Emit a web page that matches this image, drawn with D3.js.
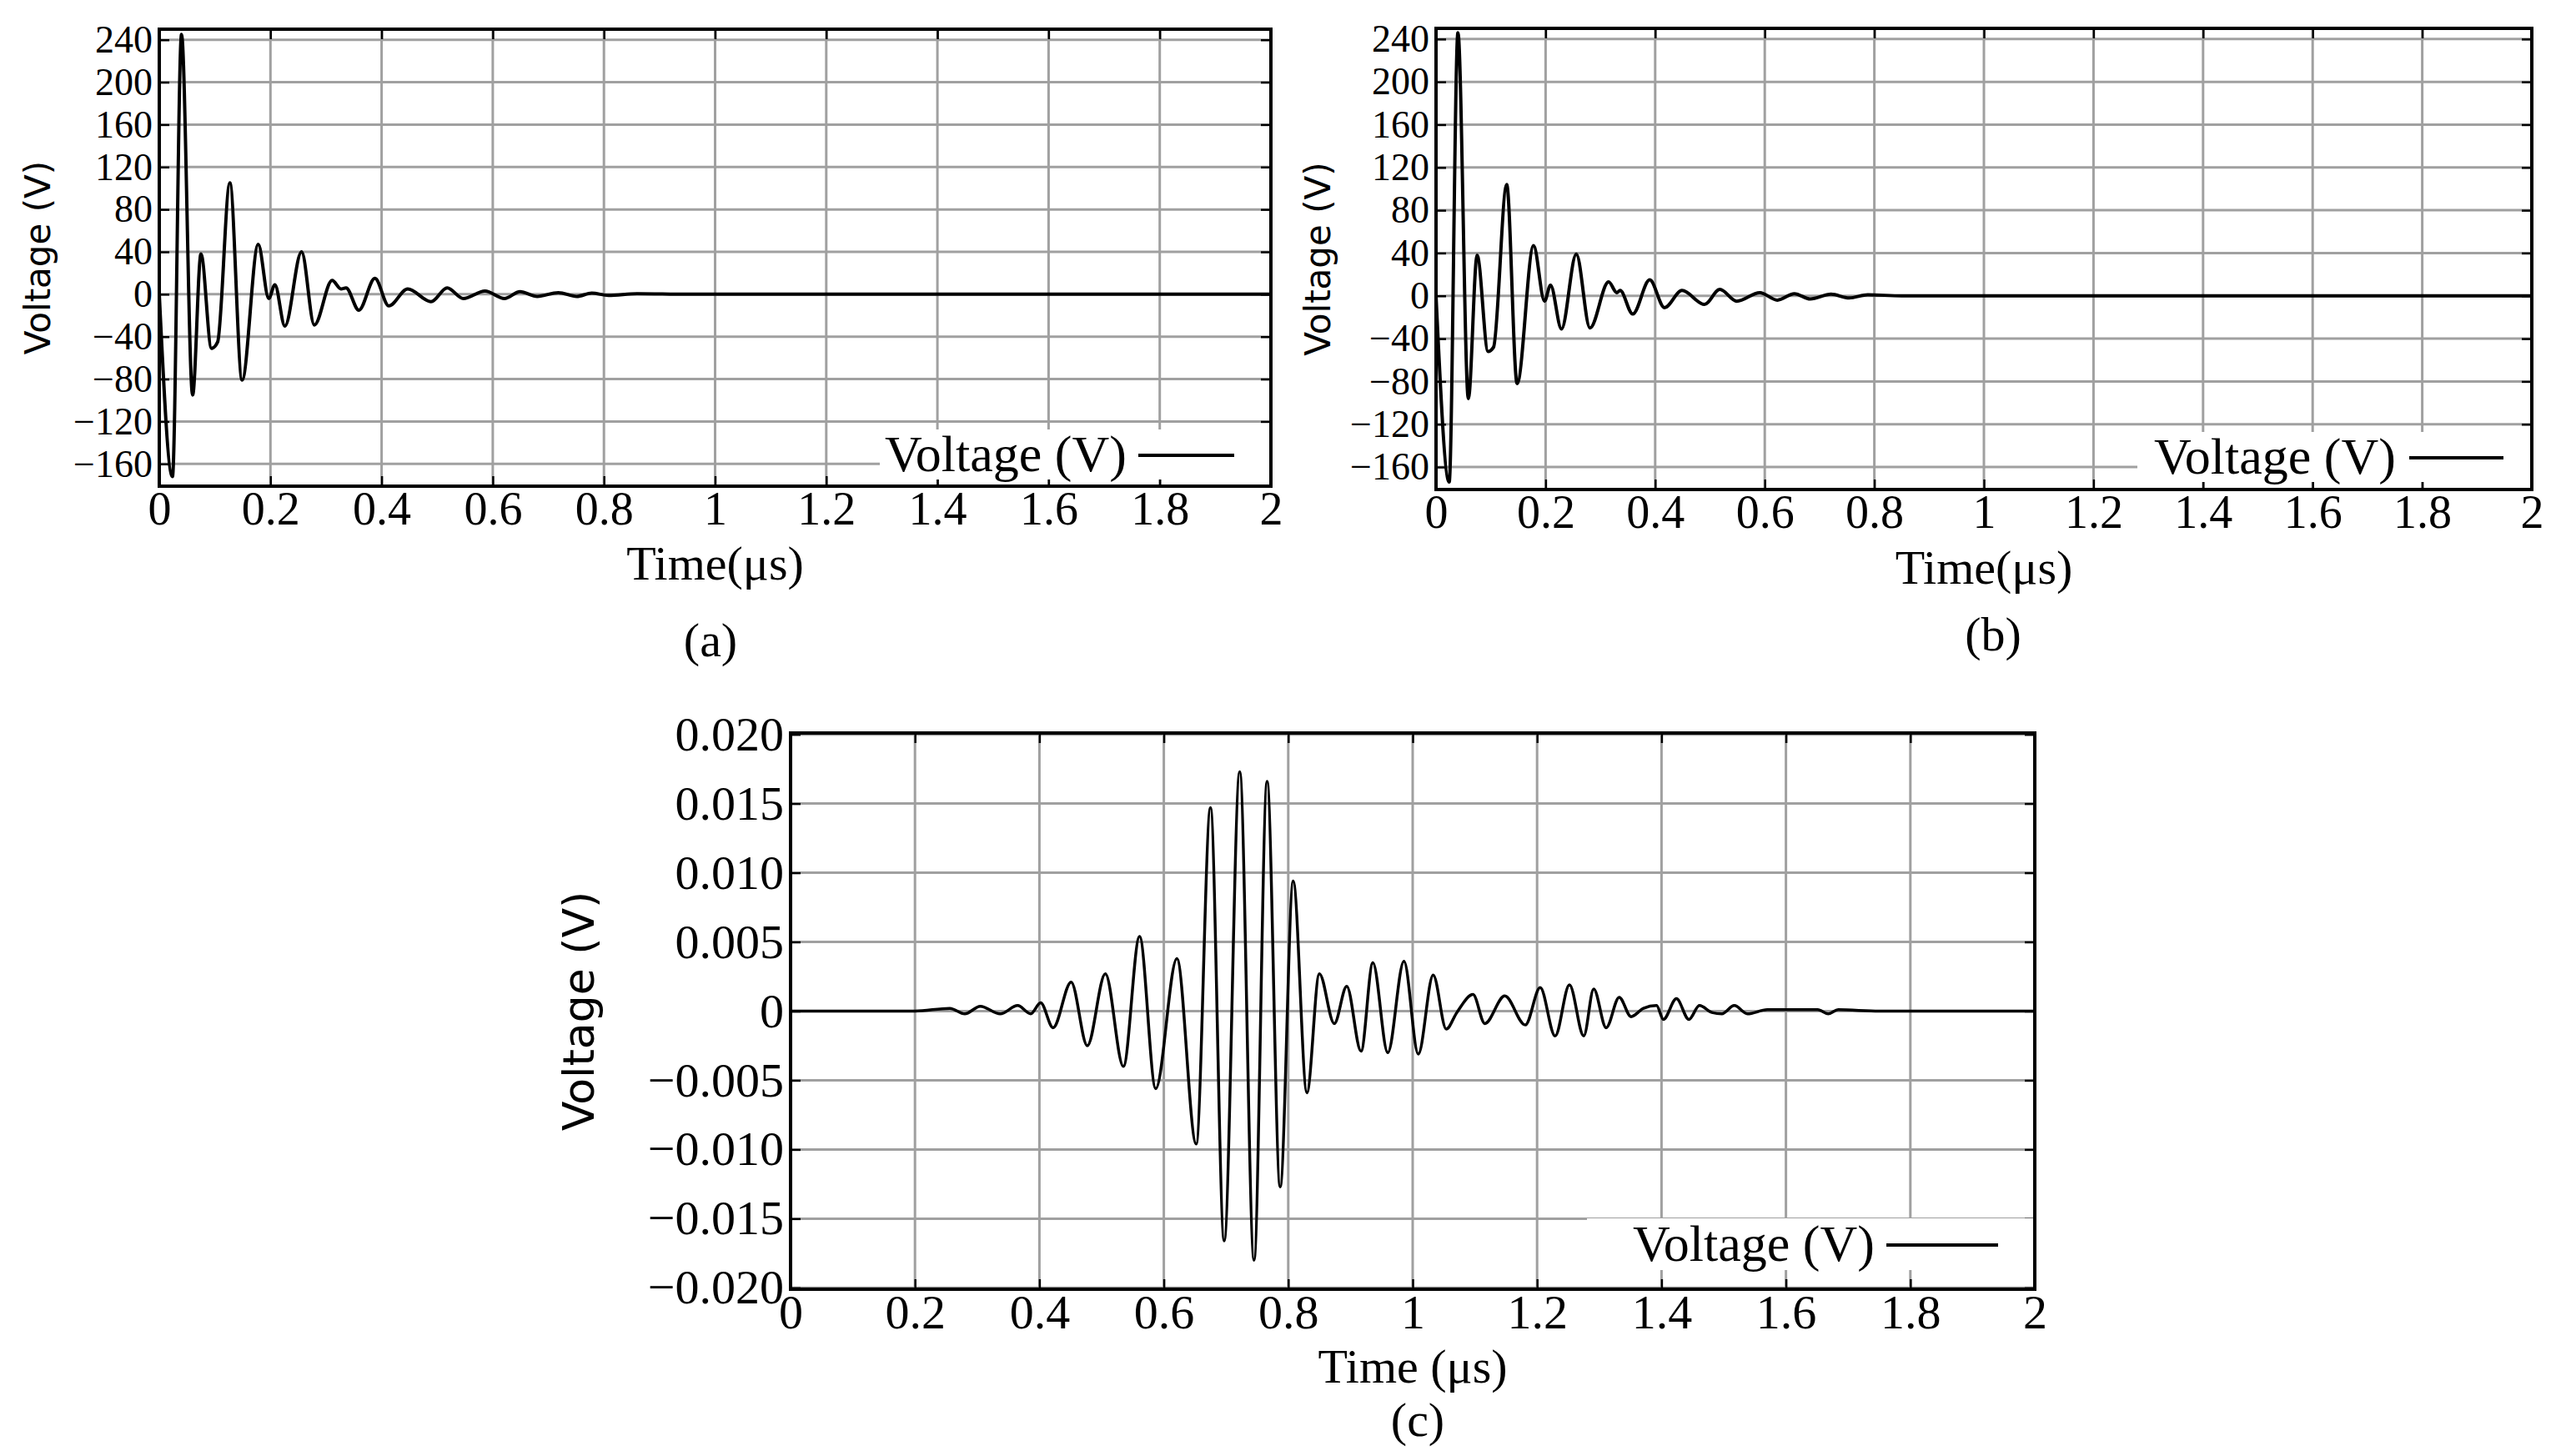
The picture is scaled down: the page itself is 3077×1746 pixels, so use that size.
<!DOCTYPE html>
<html><head><meta charset="utf-8">
<script src="https://cdn.jsdelivr.net/npm/d3@7"></script>
<style>body{margin:0;background:#fff}</style></head>
<body><svg id="c" width="3077" height="1746"></svg>
<script>
// ---- data ----
const xTicks = [0,0.2,0.4,0.6,0.8,1,1.2,1.4,1.6,1.8,2];
const xTickLabels = ["0","0.2","0.4","0.6","0.8","1","1.2","1.4","1.6","1.8","2"];
const yTicksAB = [-160,-120,-80,-40,0,40,80,120,160,200,240];
const yTicksC = [-0.020,-0.015,-0.010,-0.005,0,0.005,0.010,0.015,0.020];
const yTickLabelsC = ["\u22120.020","\u22120.015","\u22120.010","\u22120.005","0","0.005","0.010","0.015","0.020"];

const timeA = [0,0.0237,0.040,0.060,0.075,0.094,0.105,0.127,0.149,0.178,0.197,0.208,0.226,0.256,0.279,0.311,0.327,0.336,0.359,0.388,0.413,0.447,0.489,0.518,0.547,0.586,0.621,0.649,0.680,0.718,0.751,0.778,0.808,0.86,0.95,1.1,1.3,1.5,1.7,2];
const voltA = [0,-172,245,-95,38,-51,-45,105,-81,47,-4,9,-30,40,-29,13,5,6,-15,15,-11,5,-7,6,-4,3,-4,2.5,-2,1.5,-2,1,-1,0.5,0,0,0,0,0,0];

const timeB = [0,0.024,0.040,0.059,0.075,0.095,0.105,0.129,0.148,0.178,0.198,0.209,0.229,0.256,0.281,0.315,0.330,0.336,0.359,0.390,0.417,0.449,0.490,0.518,0.549,0.591,0.623,0.654,0.683,0.721,0.754,0.788,0.85,0.95,1.1,1.3,1.5,1.7,2];
const voltB = [0,-174,246,-96,38,-52,-48,104,-82,47,-5,10,-31,39,-30,13,3,5,-17,15,-11,5,-8,6,-5,3,-4,2,-3,1.5,-2,1,0,0,0,0,0,0,0];

const timeC = [0,0.14,0.2,0.256,0.28,0.305,0.337,0.365,0.386,0.402,0.422,0.451,0.477,0.506,0.535,0.561,0.587,0.621,0.652,0.675,0.697,0.722,0.745,0.766,0.787,0.808,0.830,0.85,0.874,0.894,0.917,0.936,0.960,0.986,1.009,1.033,1.054,1.071,1.097,1.116,1.148,1.181,1.205,1.229,1.252,1.275,1.291,1.311,1.332,1.351,1.371,1.392,1.403,1.424,1.444,1.461,1.481,1.497,1.517,1.538,1.57,1.651,1.668,1.684,1.75,1.85,2];
const voltC = [0,0,0,0.0002,-0.0002,0.00035,-0.0002,0.0004,-0.0002,0.0006,-0.0012,0.0021,-0.0025,0.0027,-0.004,0.0054,-0.0056,0.0038,-0.0096,0.0147,-0.0166,0.0173,-0.018,0.0166,-0.0127,0.0094,-0.0059,0.0027,-0.0009,0.0018,-0.0029,0.0035,-0.003,0.0036,-0.0031,0.0026,-0.0013,-0.0001,0.0012,-0.0009,0.0011,-0.001,0.0017,-0.0018,0.0019,-0.0018,0.0016,-0.0012,0.001,-0.0004,0.0002,0.0004,-0.0006,0.0009,-0.0006,0.0004,-0.0001,-0.0002,0.0004,-0.0002,0.0001,0.0001,-0.0002,0.0001,0,0,0];

const svg = d3.select("#c");
const SERIF = "'Liberation Serif', serif", SANS = "'DejaVu Sans', sans-serif";

function panel(o){
  const g = svg.append("g");
  const x = d3.scaleLinear().domain([0,2]).range([o.l,o.r]);
  const y = d3.scaleLinear().domain(o.ydom).range([o.b,o.t]);
  g.selectAll(".gx").data(xTicks).join("line").attr("x1",d=>x(d)).attr("x2",d=>x(d)).attr("y1",o.t).attr("y2",o.b).attr("stroke","#a0a0a0").attr("stroke-width",3);
  g.selectAll(".gy").data(o.yt).join("line").attr("y1",d=>y(d)).attr("y2",d=>y(d)).attr("x1",o.l).attr("x2",o.r).attr("stroke","#a0a0a0").attr("stroke-width",3);
  const ax = (gen, tr) => { const a = g.append("g").attr("transform",tr).call(gen); a.select(".domain").remove(); a.selectAll("line").attr("stroke","#000").attr("stroke-width",2.5); return a; };
  const bx = ax(d3.axisBottom(x).tickValues(xTicks).tickSize(-12).tickPadding(6).tickFormat((d,i)=>xTickLabels[i]),`translate(0,${o.b})`);
  bx.selectAll("text").attr("font-family",SERIF).attr("font-size",o.fs).attr("fill","#000");
  ax(d3.axisTop(x).tickValues(xTicks).tickSize(-12).tickFormat(""),`translate(0,${o.t})`);
  const ly = ax(d3.axisLeft(y).tickValues(o.yt).tickSize(-12).tickPadding(8).tickFormat((d,i)=>o.ytl[i]),`translate(${o.l},0)`);
  ly.selectAll("text").attr("font-family",SERIF).attr("font-size",o.yts).attr("fill","#000");
  ax(d3.axisRight(y).tickValues(o.yt).tickSize(-12).tickFormat(""),`translate(${o.r},0)`);
  g.append("rect").attr("x",o.lg[0]).attr("y",o.lg[1]).attr("width",o.r-o.lg[0]-2).attr("height",o.lg[2]).attr("fill","#fff");
  g.append("text").attr("x",o.lg[4]).attr("y",o.lg[1]+o.lg[2]/2+20).attr("font-family",SERIF).attr("font-size",62).text("Voltage (V)");
  g.append("line").attr("x1",o.lg[3]).attr("x2",o.lg[3]+o.lg[5]).attr("y1",o.lg[1]+o.lg[2]/2+1).attr("y2",o.lg[1]+o.lg[2]/2+1).attr("stroke","#000").attr("stroke-width",4);
  const pts = o.tx.map((t,i)=>[t,o.vy[i]]);
  g.append("path").datum(pts).attr("fill","none").attr("stroke","#000").attr("stroke-width",o.sw)
    .attr("d",d3.line().x(d=>x(d[0])).y(d=>y(d[1])).curve(d3.curveMonotoneX));
  g.append("rect").attr("x",o.l).attr("y",o.t).attr("width",o.r-o.l).attr("height",o.b-o.t).attr("fill","none").attr("stroke","#000").attr("stroke-width",4);
  g.append("text").attr("transform",`translate(${o.yl},${(o.t+o.b)/2}) rotate(-90)`).attr("text-anchor","middle").attr("font-family",SANS).attr("font-size",o.yfs).text("Voltage (V)");
  g.append("text").attr("x",(o.l+o.r)/2).attr("y",o.xl).attr("text-anchor","middle").attr("font-family",SERIF).attr("font-size",58).text(o.xlt);
  g.append("text").attr("x",o.capx).attr("y",o.capy).attr("text-anchor","middle").attr("font-family",SERIF).attr("font-size",58).text(o.cap);
}
const labAB = yTicksAB.map(d=>d<0?"\u2212"+(-d):""+d);
panel({l:191,r:1524,t:35,b:583,ydom:[-181,250],yt:yTicksAB,ytl:labAB,tx:timeA,vy:voltA,sw:4,fs:56,yts:46,yfs:42,
  lg:[1055,515,60,1365,1061,115],yl:60,xl:695,xlt:"Time(\u03bcs)",capx:852,capy:787,cap:"(a)"});
panel({l:1722,r:3036,t:34,b:587,ydom:[-181,250],yt:yTicksAB,ytl:labAB,tx:timeB,vy:voltB,sw:4,fs:56,yts:46,yfs:42,
  lg:[2563,518,60,2889,2583,113],yl:1595,xl:700,xlt:"Time(\u03bcs)",capx:2390,capy:780,cap:"(b)"});
panel({l:948,r:2440,t:879,b:1546,ydom:[-0.0201,0.0201],yt:yTicksC,ytl:yTickLabelsC,tx:timeC,vy:voltC,sw:3.5,fs:58,yts:58,yfs:52,
  lg:[1903,1461,62,2262,1958,134],yl:712,xl:1658,xlt:"Time (\u03bcs)",capx:1700,capy:1722,cap:"(c)"});
</script></body></html>
